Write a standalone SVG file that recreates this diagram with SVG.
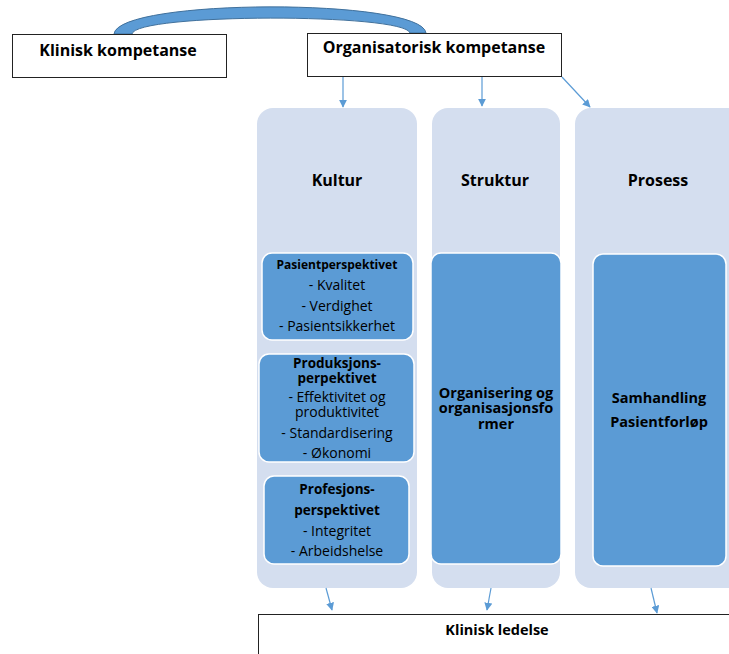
<svg xmlns="http://www.w3.org/2000/svg" width="729" height="654" viewBox="0 0 729 654">
<defs>
<style>
text{font-family:"Open Sans","Noto Sans","Liberation Sans",sans-serif;fill:#000;text-anchor:middle}
.top{font-size:16px;font-weight:bold}
.ttl{font-size:16px;font-weight:bold}
.h{font-size:12px;font-weight:bold}
.h2{font-size:13.5px;font-weight:bold}
.r{font-size:14px}
.m{font-size:14.5px;font-weight:bold}
.kl{font-size:14.5px;font-weight:bold}
.box{fill:#fff;stroke:#222;stroke-width:1}
.col{fill:#d4deef}
.in{fill:#5b9bd5;stroke:#fff;stroke-width:1.5}
.con{stroke:#5b9bd5;stroke-width:1.2;fill:none;marker-end:url(#ah)}
</style>
<marker id="ah" viewBox="0 0 10 10" refX="9" refY="5" markerWidth="8" markerHeight="8" markerUnits="userSpaceOnUse" orient="auto">
<path d="M0,0 L10,5 L0,10 Z" fill="#5b9bd5"/>
</marker>
</defs>
<rect width="729" height="654" fill="#fff"/>

<g id="arc">
<path d="M114,34 C118,-2 422,-2 426,33 L410,33 C405,13 135,13 132,34 Z" fill="#5b9bd5" stroke="#41719c" stroke-width="1"/>
</g>

<g id="klinisk-kompetanse">
<rect class="box" x="12.5" y="34.5" width="214" height="43"/>
<text class="top" x="118" y="56">Klinisk kompetanse</text>
</g>
<g id="organisatorisk-kompetanse">
<rect class="box" x="307.5" y="33.5" width="254" height="43"/>
<text class="top" x="434" y="53">Organisatorisk kompetanse</text>
</g>

<g id="kultur">
<rect class="col" x="257" y="108" width="160" height="480" rx="16"/>
<text class="ttl" x="337" y="186">Kultur</text>
</g>
<g id="struktur">
<rect class="col" x="432" y="108" width="128" height="480" rx="16"/>
<text class="ttl" x="495" y="186">Struktur</text>
</g>
<g id="prosess">
<rect class="col" x="575" y="108" width="170" height="480" rx="16"/>
<text class="ttl" x="658" y="186">Prosess</text>
</g>

<g id="pasientperspektivet">
<rect class="in" x="262" y="253" width="151" height="87" rx="10"/>
<text class="h" x="337" y="269">Pasientperspektivet</text>
<text class="r" x="337" y="290">- Kvalitet</text>
<text class="r" x="337" y="311">- Verdighet</text>
<text class="r" x="337" y="331">- Pasientsikkerhet</text>
</g>
<g id="produksjonsperspektivet">
<rect class="in" x="259" y="354" width="155" height="108" rx="10"/>
<text class="h2" x="337" y="368">Produksjons-</text>
<text class="h2" x="337" y="383">perpektivet</text>
<text class="r" x="337" y="402">- Effektivitet og</text>
<text class="r" x="337" y="417">produktivitet</text>
<text class="r" x="337" y="438">- Standardisering</text>
<text class="r" x="337" y="458">- Økonomi</text>
</g>
<g id="profesjonsperspektivet">
<rect class="in" x="264" y="476" width="145" height="88" rx="10"/>
<text class="h2" x="337" y="494">Profesjons-</text>
<text class="h2" x="337" y="515">perspektivet</text>
<text class="r" x="337" y="536">- Integritet</text>
<text class="r" x="337" y="556">- Arbeidshelse</text>
</g>

<g id="organisering">
<rect class="in" x="431" y="253" width="130" height="311" rx="10"/>
<text class="m" x="496" y="398">Organisering og</text>
<text class="m" x="496" y="413">organisasjonsfo</text>
<text class="m" x="496" y="429">rmer</text>
</g>
<g id="samhandling">
<rect class="in" x="593" y="254" width="133" height="312" rx="10"/>
<text class="m" x="659" y="403">Samhandling</text>
<text class="m" x="659" y="427">Pasientforløp</text>
</g>

<g id="klinisk-ledelse">
<rect class="box" x="258.5" y="614.5" width="480" height="50"/>
<text class="kl" x="497" y="635">Klinisk ledelse</text>
</g>

<g id="connectors">
<line class="con" x1="343" y1="77" x2="343" y2="107"/>
<line class="con" x1="482" y1="77" x2="482" y2="106"/>
<line class="con" x1="562" y1="77" x2="590" y2="107"/>
<line class="con" x1="326" y1="588" x2="332" y2="610"/>
<line class="con" x1="491" y1="588" x2="487" y2="610"/>
<line class="con" x1="651" y1="588" x2="657" y2="613"/>
</g>
</svg>
